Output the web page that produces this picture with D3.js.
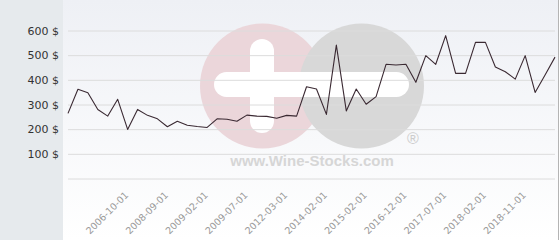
<!DOCTYPE html>
<meta charset="utf-8">
<style>
  body { margin: 0; }
  svg { display: block; font-family: "DejaVu Sans", sans-serif; }
</style>
<svg width="560" height="240"></svg>
<script src="https://d3js.org/d3.v7.min.js"></script>
<script>

// price per point
var values = [264, 362, 348, 280, 253, 321, 199, 280, 256, 242,
              210, 232, 216, 211, 207, 242, 240, 232, 257, 253,
              252, 244, 256, 253, 372, 363, 260, 541, 274, 363,
              301, 332, 463, 460, 463, 390, 498, 463, 579, 426,
              426, 552, 552, 452, 433, 403, 498, 349, 420, 492];

// only every 4th point carries a date label
var tickIndex = [6, 10, 14, 18, 22, 26, 30, 34, 38, 42, 46];
var tickLabels = ["2006-10-01", "2008-09-01", "2009-02-01", "2009-07-01", "2012-03-01",
                  "2014-02-01", "2015-02-01", "2016-12-01", "2017-07-01", "2018-02-01", "2018-11-01"];

var yTicks = [0, 100, 200, 300, 400, 500, 600];

var svg = d3.select("svg"),
    width = +svg.attr("width"),
    height = +svg.attr("height"),
    panelW = 63,
    plot = {x0: 68, x1: 555, y0: 30.5, y1: 178.5};

var x = d3.scalePoint()
    .domain(d3.range(values.length))
    .range([plot.x0, plot.x1]);

var y = d3.scaleLinear()
    .domain([0, 600])
    .range([plot.y1, plot.y0]);

var defs = svg.append("defs");
var grad = defs.append("linearGradient")
    .attr("id", "bg").attr("x1", 0).attr("y1", 0).attr("x2", 0).attr("y2", 1);
grad.append("stop").attr("offset", "0%").attr("stop-color", "#eef0f5");
grad.append("stop").attr("offset", "100%").attr("stop-color", "#ffffff");

// side panel + plot background
svg.append("rect")
    .attr("width", panelW).attr("height", height)
    .attr("fill", "#e6eaed");

svg.append("rect")
    .attr("x", panelW).attr("width", 558 - panelW).attr("height", height)
    .attr("fill", "url(#bg)");

svg.append("line")
    .attr("x1", 558.5).attr("x2", 558.5)
    .attr("y1", 0).attr("y2", height)
    .attr("stroke", "#b4b4b4");

// watermark
var wm = svg.append("g");
wm.append("circle").attr("cx", 262.5).attr("cy", 86).attr("r", 62.5).attr("fill", "#ebd6da");
wm.append("circle").attr("cx", 361.5).attr("cy", 86).attr("r", 62.5).attr("fill", "#d8d8d8");
wm.append("rect").attr("x", 214).attr("y", 72).attr("width", 195).attr("height", 25)
    .attr("rx", 12.5).attr("fill", "#ffffff");
wm.append("rect").attr("x", 250).attr("y", 39).attr("width", 24).attr("height", 94)
    .attr("rx", 12).attr("fill", "#ffffff");
wm.append("text").attr("x", 413).attr("y", 144)
    .attr("text-anchor", "middle")
    .attr("fill", "#cccccc")
    .style("font-family", "Liberation Sans, Arial, sans-serif")
    .style("font-size", "16px")
    .text("®");
wm.append("text").attr("x", 312).attr("y", 166)
    .attr("text-anchor", "middle")
    .attr("fill", "#d6d6d6")
    .style("font-family", "Liberation Sans, Arial, sans-serif")
    .style("font-weight", "bold")
    .style("font-size", "15px")
    .text("www.Wine-Stocks.com");

// y grid + labels
var yAxis = svg.append("g")
    .attr("transform", "translate(" + plot.x0 + ",0)")
    .call(d3.axisLeft(y)
        .tickValues(yTicks)
        .tickSize(-(plot.x1 - plot.x0))
        .tickPadding(9)
        .tickFormat(function(d) { return d ? d + " $" : ""; }));

yAxis.select(".domain").remove();
yAxis.selectAll(".tick line").attr("stroke", "#dcdcdc");
yAxis.selectAll(".tick text")
    .attr("fill", "#333")
    .style("font-size", "11px")
    .style("font-family", "DejaVu Sans, sans-serif");

// x labels
var xAxis = svg.append("g")
    .attr("transform", "translate(0,192)")
    .call(d3.axisBottom(x)
        .tickValues(tickIndex)
        .tickSize(0)
        .tickFormat(function(d) { return tickLabels[tickIndex.indexOf(d)]; }));

xAxis.select(".domain").remove();
xAxis.selectAll(".tick text")
    .attr("x", -2).attr("y", 0).attr("dy", "0.35em")
    .attr("transform", "rotate(-45)")
    .style("text-anchor", "end")
    .attr("fill", "#999")
    .style("font-size", "9.5px")
    .style("font-family", "DejaVu Sans, sans-serif");

// price line
var line = d3.line()
    .x(function(d, i) { return x(i); })
    .y(function(d) { return y(d); });

svg.append("path")
    .datum(values)
    .attr("fill", "none")
    .attr("stroke", "#3a2932")
    .attr("stroke-width", 1.1)
    .attr("stroke-linejoin", "round")
    .attr("d", line);

</script>
